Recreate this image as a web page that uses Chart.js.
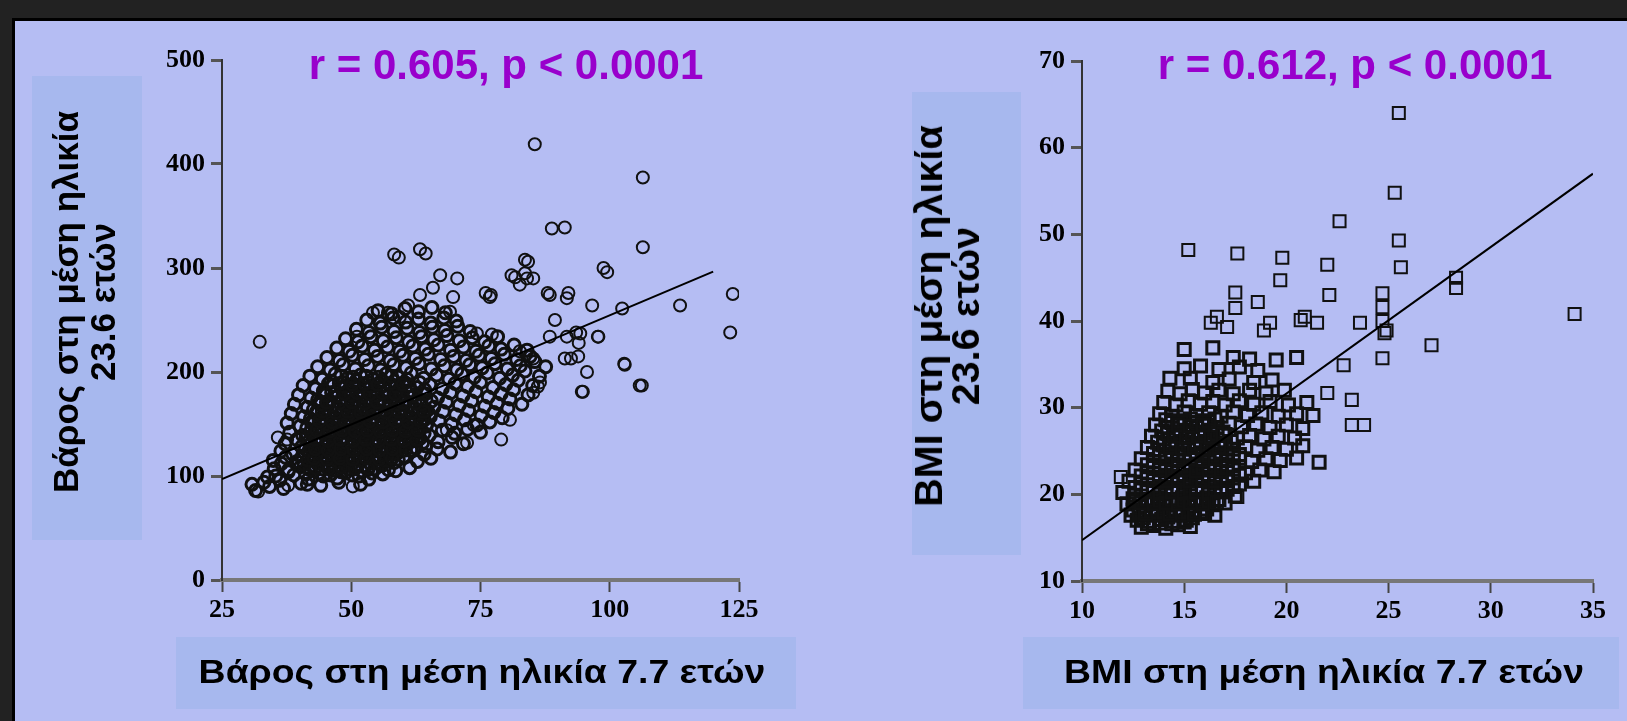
<!DOCTYPE html>
<html>
<head>
<meta charset="utf-8">
<script src="https://cdn.jsdelivr.net/npm/chart.js@4.4.1/dist/chart.umd.min.js"></script>
<style>
  html, body { margin: 0; padding: 0; }
  body { width: 1627px; height: 721px; background: #222; position: relative; overflow: hidden; }
  .panel { position: absolute; left: 12px; top: 18px; right: 0; bottom: 0; border-left: 3px solid #000; border-top: 3px solid #000; background: #b5bdf3; }
  canvas { position: absolute; left: 0; top: 0; }
  .box { position: absolute; background: #a7b8ee; }
  .lbl { position: absolute; font-family: "Liberation Sans", Arial, sans-serif; font-weight: bold; color: #000; white-space: nowrap; }
  .title { position: absolute; font-family: "Liberation Sans", Arial, sans-serif; font-weight: bold; font-size: 42px; color: #9900cc; white-space: nowrap; transform: translate(-50%, -50%); }
  .rot { text-align: center; line-height: 37px; }
  .hor { transform: translate(-50%, -50%) scaleX(1.1); font-size: 34px; }
</style>
</head>
<body>
<div class="panel"></div>

<div class="box" style="left:32px;top:76px;width:110px;height:464px"></div>
<div class="box" style="left:912px;top:92px;width:109px;height:463px"></div>
<div class="box" style="left:176px;top:637px;width:620px;height:72px"></div>
<div class="box" style="left:1023px;top:637px;width:596px;height:72px"></div>

<canvas id="chartLeft" width="1627" height="721"></canvas>
<canvas id="chartRight" width="1627" height="721"></canvas>

<div class="title" style="left:506px;top:65px">r = 0.605, p &lt; 0.0001</div>
<div class="title" style="left:1355px;top:65px">r = 0.612, p &lt; 0.0001</div>
<div class="lbl rot" style="left:84px;top:302px;font-size:35px;transform:translate(-50%,-50%) rotate(-90deg)">Βάρος στη μέση ηλικία<br>23.6 ετών</div>
<div class="lbl rot" style="left:947px;top:316px;font-size:39.5px;transform:translate(-50%,-50%) rotate(-90deg)">BMI στη μέση ηλικία<br>23.6 ετών</div>
<div class="lbl hor" style="left:482px;top:671px">Βάρος στη μέση ηλικία 7.7 ετών</div>
<div class="lbl hor" style="left:1324px;top:671px">BMI στη μέση ηλικία 7.7 ετών</div>

<script>
// tick values
const weightXTicks = [25, 50, 75, 100, 125];
const weightYTicks = [0, 100, 200, 300, 400, 500];
const bmiXTicks = [10, 15, 20, 25, 30, 35];
const bmiYTicks = [10, 20, 30, 40, 50, 60, 70];

// regression lines (start, end)
const weightFit = [[25, 97], [120, 296.5]];
const bmiFit = [[10, 14.7], [35, 57]];

// weight at 7.7 y (x) vs weight at 23.6 y (y)
const weightOutliers = [
  [85.5,419],[106.4,387],[88.8,338],[91.3,339],[106.4,320],[59.2,310],[64.4,314],[58.3,313],[63.3,318],
  [83.6,308],[83.6,295],[98.8,300],[99.5,296],[67.2,293],[70.5,290],[81,293],[84,290],[82.6,284],
  [88,276],[92,276],[76,276],[77,274],[123.8,275],[32.3,229],[123.3,238],[113.6,264],[102.8,208],
  [105.8,187],[94.6,181],[96.6,264],[102.4,261],[97.8,234],[92.5,213],[94,228],[91.7,271],[65.8,281],
  [63.3,274],[61,264],[54.2,257],[57.1,257],[59.4,253],[69.1,258],[51.1,234],[74.3,237],[77.2,236],
  [72.4,132],[68.5,144],[37.6,135],[79,135],[73.7,149],[32,85],[50.3,90],[37.8,91],[35.8,137],
  [88.4,274],[88.4,234],[91.7,234],[94.3,237],[97.7,234],[85.2,213],[91.3,213],[93.9,215],[95.6,200],
  [102.9,207],[94.8,181],[106.2,187],[86.1,186],[82.6,220],[84.2,306],[81.7,291],[85.2,290],[76.8,272],
  [69.7,272],[89.4,250],[93.5,238],[86.5,190],[80.7,154],[85.2,180]
];
const weightCloud = [
  [31.5,86],[34.2,90],[36.9,88],[40.3,93],[44.1,91],[47.6,94],[51.8,92],
  [33.8,99],[36.2,96],[38.9,101],[41.7,97],[44.6,100],[47.3,98],[50.2,101],[53.4,97],[56.1,102],
  [35.1,107],[37.8,104],[40.2,109],[42.9,105],[45.5,108],[48.1,104],[50.7,109],[53.2,106],[55.9,110],[58.6,105],[61.3,108],
  [34.9,115],[37.3,118],[39.8,113],[42.4,116],[44.7,112],[47.2,117],[49.8,114],[52.5,118],[55.1,113],[57.6,116],[60.2,119],[62.8,114],[65.4,117],
  [36.4,124],[38.7,121],[41.1,126],[43.6,122],[46.2,125],[48.7,121],[51.3,126],[53.8,123],[56.4,127],[58.9,122],[61.5,125],[64.1,121],[66.6,126],[69.2,123],
  [37.2,131],[39.5,135],[42.0,130],[44.4,134],[46.9,129],[49.3,133],[51.9,136],[54.4,131],[56.8,135],[59.3,130],[61.9,134],[64.4,129],[66.8,133],[69.5,137],[71.7,131],
  [38.1,142],[40.6,139],[43.0,144],[45.5,140],[47.9,143],[50.4,139],[52.8,144],[55.3,141],[57.7,145],[60.2,140],[62.6,143],[65.1,139],[67.6,144],[70.0,141],[72.5,145],[75.0,142],
  [37.6,151],[40.1,148],[42.5,153],[44.9,149],[47.4,152],[49.8,148],[52.3,153],[54.7,150],[57.2,154],[59.6,149],[62.1,152],[64.5,148],[67.0,153],[69.4,150],[71.9,154],[74.3,149],[76.8,152],[79.2,156],
  [38.4,160],[40.8,157],[43.3,162],[45.7,158],[48.2,161],[50.6,157],[53.1,162],[55.5,159],[58.0,163],[60.4,158],[62.9,161],[65.3,157],[67.8,162],[70.2,159],[72.7,163],[75.1,158],[77.6,161],[80.3,165],
  [39.0,169],[41.5,166],[43.9,171],[46.4,167],[48.8,170],[51.3,166],[53.7,171],[56.2,168],[58.6,172],[61.1,167],[63.5,170],[66.0,166],[68.4,171],[70.9,168],[73.3,172],[75.8,167],[78.2,170],[80.7,174],[83.0,169],
  [39.8,178],[42.2,175],[44.7,180],[47.1,176],[49.6,179],[52.0,175],[54.5,180],[56.9,177],[59.4,181],[61.8,176],[64.3,179],[66.7,175],[69.2,180],[71.6,177],[74.1,181],[76.5,176],[79.0,179],[81.4,183],[84.2,178],
  [40.7,187],[43.1,184],[45.6,189],[48.0,185],[50.5,188],[52.9,184],[55.4,189],[57.8,186],[60.3,190],[62.7,185],[65.2,188],[67.6,184],[70.1,189],[72.5,186],[75.0,190],[77.4,185],[79.9,188],[82.3,192],[85.1,187],
  [42.0,196],[44.4,193],[46.9,198],[49.3,194],[51.8,197],[54.2,193],[56.7,198],[59.1,195],[61.6,199],[64.0,194],[66.5,197],[68.9,193],[71.4,198],[73.8,195],[76.3,199],[78.7,194],[81.2,197],[83.6,201],[86.4,196],
  [43.5,205],[45.9,202],[48.4,207],[50.8,203],[53.3,206],[55.7,202],[58.2,207],[60.6,204],[63.1,208],[65.5,203],[68.0,206],[70.4,202],[72.9,207],[75.3,204],[77.8,208],[80.2,203],[82.7,206],[85.5,210],[87.6,205],
  [45.3,214],[47.7,211],[50.2,216],[52.6,212],[55.1,215],[57.5,211],[60.0,216],[62.4,213],[64.9,217],[67.3,212],[69.8,215],[72.2,211],[74.7,216],[77.1,213],[79.6,217],[82.0,212],[84.6,215],
  [47.2,223],[49.6,220],[52.1,225],[54.5,221],[57.0,224],[59.4,220],[61.9,225],[64.3,222],[66.8,226],[69.2,221],[71.7,224],[74.1,220],[76.6,225],[79.0,222],[81.5,226],[84.0,221],
  [48.9,232],[51.3,229],[53.8,234],[56.2,230],[58.7,233],[61.1,229],[63.6,234],[66.0,231],[68.5,235],[70.9,230],[73.4,233],[75.8,229],[78.3,234],
  [51.0,241],[53.4,238],[55.9,243],[58.3,239],[60.8,242],[63.2,238],[65.7,243],[68.1,240],[70.6,244],[73.0,239],
  [53.0,250],[55.6,247],[58.1,252],[60.5,248],[63.0,251],[65.4,247],[67.9,252],[70.3,249],
  [55.2,259],[57.8,256],[60.4,261],[63.0,258],[65.6,262],[68.2,257],
  [30.8,92],[33.1,94],[35.4,100],[37.9,106],[39.5,114],[36.5,112],[41.5,92]
];
const weightCore = [
  [41.2,102],[43.8,103],[46.0,101],[48.9,103],[51.5,100],[54.0,103],
  [40.9,111],[43.4,112],[45.8,110],[48.3,112],[50.9,110],[53.6,112],[56.0,111],[58.3,113],
  [40.5,119],[42.9,120],[45.4,118],[47.9,120],[50.4,119],[52.9,121],[55.3,119],[57.9,121],[60.3,118],
  [40.4,128],[42.8,127],[45.3,129],[47.7,127],[50.2,129],[52.6,128],[55.1,130],[57.6,127],[60.1,129],[62.5,127],
  [41.3,137],[43.7,136],[46.2,138],[48.6,136],[51.1,138],[53.5,137],[56.0,139],[58.4,136],[60.9,138],[63.3,136],
  [41.4,146],[43.8,145],[46.3,147],[48.7,145],[51.2,147],[53.6,146],[56.1,148],[58.5,145],[61.0,147],[63.4,145],
  [42.1,155],[44.5,154],[47.0,156],[49.4,154],[51.9,156],[54.3,155],[56.8,157],[59.2,154],[61.7,156],[64.1,154],
  [42.7,164],[45.1,163],[47.6,165],[50.0,163],[52.5,165],[54.9,164],[57.4,166],[59.8,163],[62.3,165],[64.7,163],
  [43.5,173],[45.9,172],[48.4,174],[50.8,172],[53.3,174],[55.7,173],[58.2,175],[60.6,172],[63.1,174],[65.5,172],
  [44.6,182],[47.0,181],[49.5,183],[51.9,181],[54.4,183],[56.8,182],[59.3,184],[61.7,181],[64.2,183],
  [46.1,191],[48.5,190],[51.0,192],[53.4,190],[55.9,192],[58.3,191],[60.8,193],[63.2,190],
  [42.0,106],[44.3,107],[46.8,106],[49.4,107],[52.0,105],[54.6,107],[57.2,106],
  [41.6,115],[44.0,116],[46.5,115],[49.0,116],[51.6,115],[54.1,116],[56.6,115],[59.1,116],
  [41.8,124],[44.3,125],[46.8,124],[49.2,125],[51.7,124],[54.2,125],[56.7,124],[59.2,125],[61.7,124],
  [41.8,133],[44.2,132],[46.7,133],[49.1,132],[51.6,133],[54.0,132],[56.5,133],[58.9,132],[61.4,133],[63.8,132],
  [42.1,142],[44.5,141],[47.0,142],[49.4,141],[51.9,142],[54.3,141],[56.8,142],[59.2,141],[61.7,142],[64.1,141],
  [42.6,151],[45.0,150],[47.5,151],[49.9,150],[52.4,151],[54.8,150],[57.3,151],[59.7,150],[62.2,151],[64.6,150],
  [43.2,160],[45.6,159],[48.1,160],[50.5,159],[53.0,160],[55.4,159],[57.9,160],[60.3,159],[62.8,160],[65.2,159],
  [44.0,169],[46.4,168],[48.9,169],[51.3,168],[53.8,169],[56.2,168],[58.7,169],[61.1,168],[63.6,169],
  [45.0,178],[47.4,177],[49.9,178],[52.3,177],[54.8,178],[57.2,177],[59.7,178],[62.1,177],
  [46.5,187],[48.9,186],[51.4,187],[53.8,186],[56.3,187],[58.7,186],[61.2,187],
  [48.0,196],[50.4,195],[52.9,196],[55.3,195],[57.8,196],
  [43.1,108],[45.6,107],[48.1,109],[50.7,107],[53.3,108],
  [42.8,117],[45.3,116],[47.8,117],[50.3,116],[52.9,117],[55.4,116],[57.9,117],
  [43.0,126],[45.5,125],[48.0,126],[50.5,125],[53.0,126],[55.5,125],[58.0,126],[60.5,125],
  [43.0,135],[45.5,134],[47.9,135],[50.4,134],[52.8,135],[55.3,134],[57.7,135],[60.2,134],[62.6,135],
  [43.3,144],[45.8,143],[48.2,144],[50.7,143],[53.1,144],[55.6,143],[58.0,144],[60.5,143],[62.9,144],
  [43.8,153],[46.3,152],[48.7,153],[51.2,152],[53.6,153],[56.1,152],[58.5,153],[61.0,152],[63.4,153],
  [44.4,162],[46.9,161],[49.3,162],[51.8,161],[54.2,162],[56.7,161],[59.1,162],[61.6,161],[64.0,162],
  [45.2,171],[47.7,170],[50.1,171],[52.6,170],[55.0,171],[57.5,170],[59.9,171],[62.4,170],
  [46.2,180],[48.7,179],[51.1,180],[53.6,179],[56.0,180],[58.5,179],[60.9,180],
  [47.7,189],[50.2,188],[52.6,189],[55.1,188],[57.5,189],[60.0,188]
];

// BMI at 7.7 y (x) vs BMI at 23.6 y (y)
const bmiOutliers = [
  [15.2,48.2],[17.6,47.8],[19.8,47.3],[22.0,46.5],[22.6,51.5],[25.5,64.0],[25.3,54.8],[25.5,49.3],[25.6,46.2],
  [19.7,44.7],[17.5,43.3],[18.6,42.2],[17.5,41.5],[17.1,39.3],[16.3,39.8],[19.2,39.8],[18.9,38.9],[20.7,40.1],
  [22.1,43.0],[24.7,43.2],[28.3,45.0],[28.3,43.8],[34.1,40.8],[24.7,41.6],[24.7,40.0],[16.6,40.5],[20.9,40.5],
  [21.5,39.8],[23.6,39.8],[24.9,38.9],[24.8,38.6],[27.1,37.2],[23.2,30.9],[23.2,28.0],[23.8,28.0],[11.9,22.0],
  [16.6,19.1],[17.6,19.7],[24.7,35.7],[22.8,34.9],[22.0,31.7]
];
const bmiCloud = [
  [12.9,16.2],[13.5,16.4],[14.1,16.1],[14.7,16.5],[15.3,16.3],
  [12.4,17.6],[13.0,17.3],[13.6,17.8],[14.2,17.4],[14.8,17.7],[15.4,17.3],[16.0,17.8],[16.5,17.6],
  [12.2,18.9],[12.8,18.6],[13.4,19.1],[14.0,18.7],[14.6,19.0],[15.2,18.6],[15.8,19.1],[16.4,18.8],[17.0,19.0],
  [12.0,20.2],[12.6,19.9],[13.2,20.4],[13.8,20.0],[14.4,20.3],[15.0,19.9],[15.6,20.4],[16.2,20.0],[16.8,20.3],[17.5,19.8],
  [12.3,21.5],[12.9,21.2],[13.5,21.7],[14.1,21.3],[14.7,21.6],[15.3,21.2],[15.9,21.7],[16.5,21.3],[17.1,21.6],[17.7,21.2],[18.4,21.5],
  [12.6,22.8],[13.2,22.5],[13.8,23.0],[14.4,22.6],[15.0,22.9],[15.6,22.5],[16.2,23.0],[16.8,22.6],[17.4,22.9],[18.0,22.5],[18.7,22.8],[19.4,22.6],
  [12.9,24.1],[13.5,23.8],[14.1,24.3],[14.7,23.9],[15.3,24.2],[15.9,23.8],[16.5,24.3],[17.1,23.9],[17.7,24.2],[18.3,23.8],[19.0,24.1],[19.7,23.9],[20.5,24.2],[21.6,23.7],
  [13.2,25.4],[13.8,25.1],[14.4,25.6],[15.0,25.2],[15.6,25.5],[16.2,25.1],[16.8,25.6],[17.4,25.2],[18.0,25.5],[18.6,25.1],[19.3,25.4],[20.0,25.2],[20.8,25.6],
  [13.4,26.7],[14.0,26.4],[14.6,26.9],[15.2,26.5],[15.8,26.8],[16.4,26.4],[17.0,26.9],[17.6,26.5],[18.2,26.8],[18.9,26.4],[19.6,26.7],[20.4,26.5],
  [13.6,28.0],[14.2,27.7],[14.8,28.2],[15.4,27.8],[16.0,28.1],[16.6,27.7],[17.2,28.2],[17.8,27.8],[18.5,28.1],[19.2,27.7],[20.0,28.0],[20.8,27.6],
  [13.8,29.3],[14.4,29.0],[15.0,29.5],[15.6,29.1],[16.2,29.4],[16.8,29.0],[17.4,29.5],[18.1,29.1],[18.8,29.4],[19.6,29.0],[20.5,29.3],[21.3,29.1],
  [14.0,30.6],[14.6,30.3],[15.2,30.8],[15.8,30.4],[16.4,30.7],[17.0,30.3],[17.7,30.8],[18.4,30.4],[19.2,30.7],[20.1,30.3],[21.0,30.6],
  [14.2,31.9],[14.8,31.6],[15.4,32.1],[16.0,31.7],[16.7,32.0],[17.4,31.6],[18.2,32.0],[19.0,31.7],[19.9,32.0],
  [14.3,33.4],[15.3,33.4],[16.4,32.9],[17.2,33.3],[18.4,32.9],[19.3,33.2],
  [15.0,34.5],[15.8,34.8],[16.7,34.4],[17.7,34.7],[18.6,34.3],
  [15.0,36.7],[16.4,36.9],[17.4,35.8],[18.2,35.6],[19.5,35.5],[20.5,35.8]
];
const bmiCore = [
  [12.7,17.0],[13.3,16.9],[13.9,17.1],[14.5,16.9],[15.1,17.0],
  [12.5,18.2],[13.1,18.1],[13.7,18.3],[14.3,18.1],[14.9,18.3],[15.5,18.1],[16.1,18.3],
  [12.5,19.5],[13.1,19.4],[13.7,19.6],[14.3,19.4],[14.9,19.6],[15.5,19.4],[16.1,19.6],[16.7,19.4],
  [12.6,20.8],[13.2,20.7],[13.8,20.9],[14.4,20.7],[15.0,20.9],[15.6,20.7],[16.2,20.9],[16.8,20.7],[17.4,20.9],
  [12.9,22.1],[13.5,22.0],[14.1,22.2],[14.7,22.0],[15.3,22.2],[15.9,22.0],[16.5,22.2],[17.1,22.0],[17.7,22.2],
  [13.2,23.4],[13.8,23.3],[14.4,23.5],[15.0,23.3],[15.6,23.5],[16.2,23.3],[16.8,23.5],[17.4,23.3],
  [13.5,24.7],[14.1,24.6],[14.7,24.8],[15.3,24.6],[15.9,24.8],[16.5,24.6],[17.1,24.8],[17.7,24.6],
  [13.7,26.0],[14.3,25.9],[14.9,26.1],[15.5,25.9],[16.1,26.1],[16.7,25.9],[17.3,26.1],
  [13.9,27.3],[14.5,27.2],[15.1,27.4],[15.7,27.2],[16.3,27.4],[16.9,27.2],
  [14.1,28.6],[14.7,28.5],[15.3,28.7],[15.9,28.5],[16.5,28.7],
  [13.2,16.6],[13.8,16.7],[14.4,16.6],[15.0,16.8],
  [12.8,17.9],[13.4,18.0],[14.0,17.9],[14.6,18.0],[15.2,17.9],[15.8,18.0],
  [12.6,19.2],[13.2,19.3],[13.8,19.2],[14.4,19.3],[15.0,19.2],[15.6,19.3],[16.2,19.2],
  [12.9,20.5],[13.5,20.6],[14.1,20.5],[14.7,20.6],[15.3,20.5],[15.9,20.6],[16.5,20.5],[17.1,20.6],
  [13.2,21.8],[13.8,21.9],[14.4,21.8],[15.0,21.9],[15.6,21.8],[16.2,21.9],[16.8,21.8],[17.4,21.9],
  [13.5,23.1],[14.1,23.2],[14.7,23.1],[15.3,23.2],[15.9,23.1],[16.5,23.2],[17.1,23.1],
  [13.8,24.4],[14.4,24.5],[15.0,24.4],[15.6,24.5],[16.2,24.4],[16.8,24.5],[17.4,24.4],
  [14.0,25.7],[14.6,25.8],[15.2,25.7],[15.8,25.8],[16.4,25.7],[17.0,25.8],
  [14.2,27.0],[14.8,27.1],[15.4,27.0],[16.0,27.1],[16.6,27.0],
  [14.4,28.3],[15.0,28.4],[15.6,28.3],[16.2,28.4],
  [13.1,17.7],[13.7,17.6],[14.3,17.7],[14.9,17.6],[15.5,17.7],
  [12.9,19.0],[13.5,18.9],[14.1,19.0],[14.7,18.9],[15.3,19.0],[15.9,18.9],
  [13.2,20.3],[13.8,20.2],[14.4,20.3],[15.0,20.2],[15.6,20.3],[16.2,20.2],[16.8,20.3],
  [13.5,21.6],[14.1,21.5],[14.7,21.6],[15.3,21.5],[15.9,21.6],[16.5,21.5],[17.1,21.6],
  [13.8,22.8],[14.4,22.7],[15.0,22.8],[15.6,22.7],[16.2,22.8],[16.8,22.7],
  [14.1,24.1],[14.7,24.0],[15.3,24.1],[15.9,24.0],[16.5,24.1],[17.1,24.0],
  [14.3,25.4],[14.9,25.3],[15.5,25.4],[16.1,25.3],[16.7,25.4],
  [14.5,26.7],[15.1,26.6],[15.7,26.7],[16.3,26.6],
  [14.7,28.0],[15.3,27.9],[15.9,28.0]
];

const toPts = arr => arr.map(p => ({x: p[0], y: p[1]}));
const tickFont = {family: '"Liberation Serif", "Times New Roman", serif', size: 26, weight: 'bold'};

// fixed axis sizes so the plot area lands where the picture has it
function fixWidth(w) { return function (scale) { scale.width = w; }; }
function fixHeight(h) { return function (scale) { scale.height = h; }; }

function markerSet(points, opts, width) {
  return {
    data: toPts(points),
    pointStyle: opts.style,
    pointRadius: opts.radius,
    borderWidth: width,
    borderColor: '#111',
    backgroundColor: 'rgba(0,0,0,0)'
  };
}

function makeChart(id, opts) {
  return new Chart(document.getElementById(id), {
    type: 'scatter',
    data: {
      datasets: [
        {
          type: 'line',
          data: toPts(opts.fit),
          borderColor: '#000',
          borderWidth: 2,
          pointRadius: 0,
          fill: false
        },
        markerSet(opts.sparse, opts, 2),
        markerSet(opts.dense, opts, 3)
      ]
    },
    options: {
      responsive: false,
      animation: false,
      events: [],
      layout: {padding: opts.padding},
      plugins: {legend: {display: false}, tooltip: {enabled: false}},
      scales: {
        x: {
          type: 'linear',
          min: opts.xTicks[0],
          max: opts.xTicks[opts.xTicks.length - 1],
          afterFit: fixHeight(45),
          ticks: {stepSize: opts.xTicks[1] - opts.xTicks[0], font: tickFont, color: '#000', padding: 3, maxRotation: 0},
          grid: {drawOnChartArea: false, drawTicks: true, tickLength: 12, tickColor: '#444', tickWidth: 2},
          border: {display: true, color: '#777', width: 4}
        },
        y: {
          type: 'linear',
          min: opts.yTicks[0],
          max: opts.yTicks[opts.yTicks.length - 1],
          afterFit: fixWidth(70),
          ticks: {stepSize: opts.yTicks[1] - opts.yTicks[0], font: tickFont, color: '#000', padding: 6},
          grid: {drawOnChartArea: false, drawTicks: true, tickLength: 11, tickColor: '#555', tickWidth: 3},
          border: {display: true, color: '#333', width: 2}
        }
      }
    }
  });
}

makeChart('chartLeft', {
  sparse: weightOutliers,
  dense: weightCloud.concat(weightCore),
  fit: weightFit,
  style: 'circle',
  radius: 6,
  xTicks: weightXTicks,
  yTicks: weightYTicks,
  padding: {left: 152, right: 888, top: 60, bottom: 96}
});

makeChart('chartRight', {
  sparse: bmiOutliers,
  dense: bmiCloud.concat(bmiCore),
  fit: bmiFit,
  style: 'rect',
  radius: 8.5,
  xTicks: bmiXTicks,
  yTicks: bmiYTicks,
  padding: {left: 1012, right: 34, top: 61, bottom: 95}
});
</script>
</body>
</html>
